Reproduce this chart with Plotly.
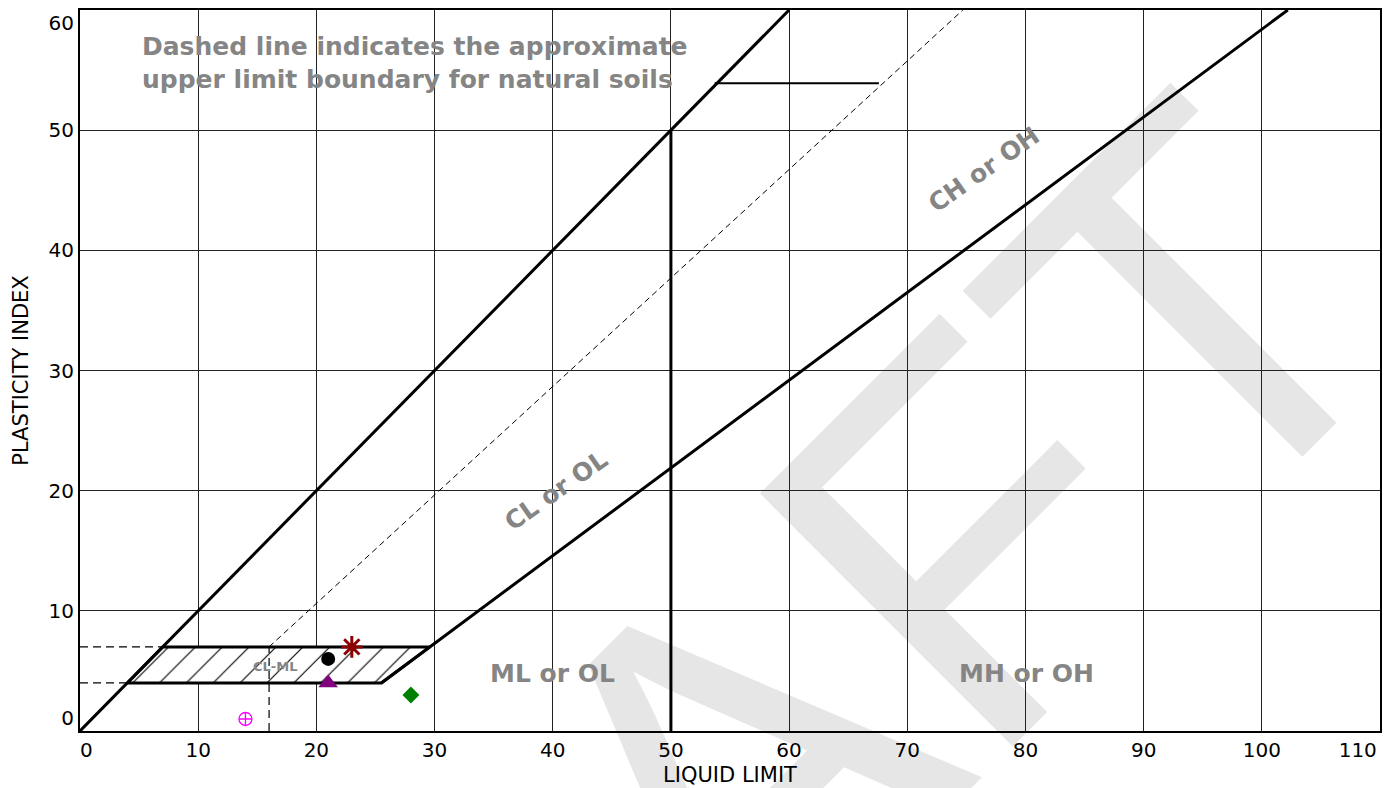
import plotly.graph_objects as go

# ---- axis ticks ----
x_ticks = [0, 10, 20, 30, 40, 50, 60, 70, 80, 90, 100, 110]
x_tick_labels = ["\u00a0\u00a00", "10", "20", "30", "40", "50", "60", "70", "80", "90", "100",
                 "110" + "\u00a0" * 7]
y_ticks = [0, 10, 20, 30, 40, 50, 60]
y_tick_labels = ["0<br>\u00a0", "10", "20", "30", "40", "50", "\u00a0<br>60"]

# ---- chart boundary lines (liquid limit, plasticity index) ----
upper_ll = [0, 60]
upper_pi = [0, 60]
aline_ll = [25.5, 102.2]
aline_pi = [4, 60]
uline_ll = [16, 74.7]
uline_pi = [7, 60]
ll50_ll = [50, 50]
ll50_pi = [0, 50]
clml_ll = [4, 25.5, 29.6, 7, 4]
clml_pi = [4, 4, 7, 7, 4]
guide7_ll = [0, 7]
guide7_pi = [7, 7]
guide4_ll = [0, 4]
guide4_pi = [4, 4]
guide16_ll = [16, 16]
guide16_pi = [0, 7]
pointer_ll = [53.7, 67.6]
pointer_pi = [53.9, 53.9]

# ---- samples ----
sample_ll = [21, 23, 21, 28, 14]
sample_pi = [6, 7, 4, 3, 1]
sample_symbols = ["circle", "asterisk-open", "triangle-up", "diamond", "circle-cross-open"]
sample_colors = ["#000000", "#8b0000", "#800080", "#008000", "#ff00ff"]
sample_sizes = [14, 18, 17, 13, 13]

# ---- zone labels ----
zone_text = ["CL or OL", "CH or OH", "ML or OL", "MH or OH", "CL-ML"]
zone_ll = [40.3, 76.5, 40.0, 80.1, 16.5]
zone_pi = [20.0, 46.7, 4.8, 4.8, 5.4]
zone_angle = [-35, -35, 0, 0, 0]
zone_size = [25, 25, 25, 25, 13]

note_lines = ["Dashed line indicates the approximate", "upper limit boundary for natural soils"]
note_ll = [5.08, 5.08]
note_pi = [57.0, 54.2]

FONT = "DejaVu Sans"
GRAY = "#858585"

fig = go.Figure()

# hatched CL-ML zone
fig.add_trace(go.Scatter(
    x=clml_ll, y=clml_pi, mode="lines", fill="toself", fillcolor="white",
    fillpattern=dict(shape="/", size=19, solidity=0.06, fgcolor="black",
                     bgcolor="white", fgopacity=1),
    line=dict(color="black", width=3), hoverinfo="skip", showlegend=False))

def add_line(x, y, width=3, dash="solid"):
    fig.add_trace(go.Scatter(x=x, y=y, mode="lines",
                             line=dict(color="black", width=width, dash=dash),
                             hoverinfo="skip", showlegend=False))

add_line(upper_ll, upper_pi, 3)
add_line(aline_ll, aline_pi, 3)
add_line(ll50_ll, ll50_pi, 3)
add_line(uline_ll, uline_pi, 1, "6px,4px")
add_line(guide7_ll, guide7_pi, 1.2, "8px,5px")
add_line(guide4_ll, guide4_pi, 1.2, "8px,5px")
add_line(guide16_ll, guide16_pi, 1.2, "8px,5px")
add_line(pointer_ll, pointer_pi, 2)

# samples
for i in range(len(sample_ll)):
    sym = sample_symbols[i]
    is_open = sym.endswith("open")
    fig.add_trace(go.Scatter(
        x=[sample_ll[i]], y=[sample_pi[i]], mode="markers", showlegend=False,
        marker=dict(symbol=sym, size=sample_sizes[i], color=sample_colors[i],
                    line=dict(color=sample_colors[i], width=3 if sym == "asterisk-open" else (1.3 if is_open else 0)))))

# zone labels
for t, x, y, a, s in zip(zone_text, zone_ll, zone_pi, zone_angle, zone_size):
    fig.add_annotation(x=x, y=y, xref="x", yref="y", text="<b>%s</b>" % t, showarrow=False,
                       textangle=a, font=dict(family=FONT, size=s, color=GRAY),
                       xanchor="center", yanchor="middle")

for t, x, y in zip(note_lines, note_ll, note_pi):
    fig.add_annotation(x=x, y=y, xref="x", yref="y", text="<b>%s</b>" % t, showarrow=False,
                       font=dict(family=FONT, size=25, color=GRAY),
                       xanchor="left", yanchor="middle")

# DRAFT watermark (below grid)
wx, wy = 0.4437, -0.065
fig.add_shape(type="rect", xref="paper", yref="paper", x0=wx - 0.005, x1=wx + 0.005,
              y0=wy - 0.005, y1=wy + 0.005, layer="below",
              line=dict(width=0), fillcolor="rgba(0,0,0,0)",
              label=dict(text="DRAFT", textangle=-45, textposition="middle center",
                         font=dict(family="Liberation Sans", size=520, color="#e6e6e6")))

fig.update_xaxes(range=[0, 110], tickvals=x_ticks, ticktext=x_tick_labels,
                 showgrid=True, gridcolor="#222222", gridwidth=1,
                 showline=True, linecolor="black", linewidth=2, mirror=True,
                 ticks="", zeroline=False, automargin=False, ticklabeloverflow="allow",
                 tickfont=dict(family=FONT, size=20, color="black"),
                 title=dict(text="LIQUID LIMIT", standoff=6,
                            font=dict(family=FONT, size=21, color="black")))
fig.update_yaxes(range=[0, 60], tickvals=y_ticks, ticktext=y_tick_labels,
                 showgrid=True, gridcolor="#222222", gridwidth=1,
                 showline=True, linecolor="black", linewidth=2, mirror=True,
                 ticks="", zeroline=False, automargin=False, ticklabeloverflow="allow",
                 tickfont=dict(family=FONT, size=20, color="black"),
                 title=dict(text="PLASTICITY INDEX", standoff=14,
                            font=dict(family=FONT, size=21, color="black")))

fig.update_layout(width=1392, height=788, margin=dict(l=80, r=12, t=10, b=57),
                  paper_bgcolor="white", plot_bgcolor="rgba(0,0,0,0)",
                  showlegend=False)

fig.write_html("out.html", config={"displayModeBar": False},
               post_script="document.body.style.margin='0';document.body.style.padding='0';")
